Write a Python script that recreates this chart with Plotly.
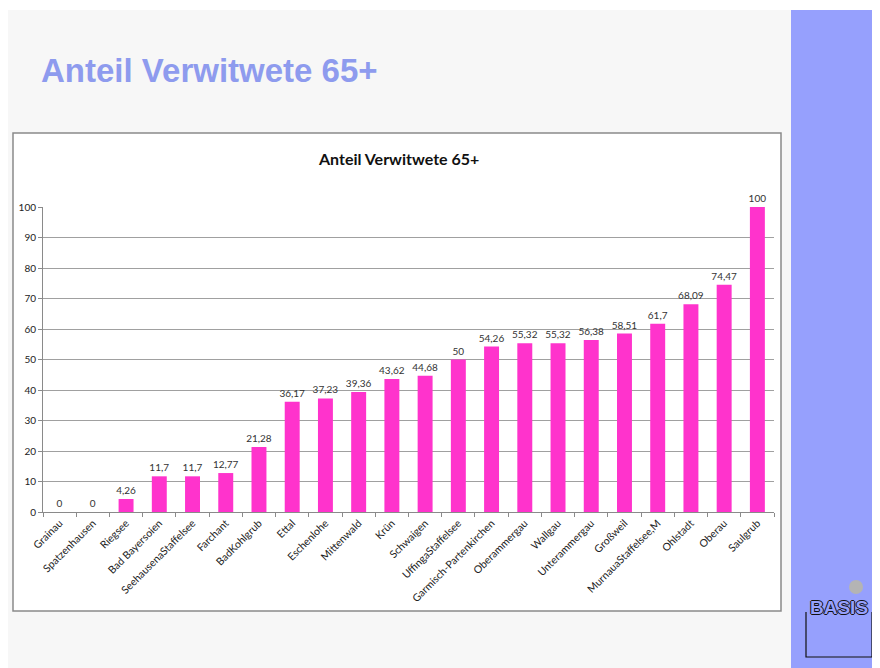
import plotly.graph_objects as go

categories = ["Grainau", "Spatzenhausen", "Riegsee", "Bad Bayersoien", "SeehausenaStaffelsee",
              "Farchant", "BadKohlgrub", "Ettal", "Eschenlohe", "Mittenwald", "Krün", "Schwaigen",
              "UffingaStaffelsee", "Garmisch-Partenkirchen", "Oberammergau", "Wallgau",
              "Unterammergau", "Großweil", "MurnauaStaffelsee,M", "Ohlstadt", "Oberau", "Saulgrub"]
values = [0, 0, 4.26, 11.7, 11.7, 12.77, 21.28, 36.17, 37.23, 39.36, 43.62, 44.68, 50,
          54.26, 55.32, 55.32, 56.38, 58.51, 61.7, 68.09, 74.47, 100]
y_ticks = [0, 10, 20, 30, 40, 50, 60, 70, 80, 90, 100]
page_title = "Anteil Verwitwete 65+"
chart_title = "Anteil Verwitwete 65+"

OFF = 8  # browser body margin
W, H = 880 - OFF, 668 - OFF
L, R, T, B = 43, 774, 207, 512  # plot area in reference px
FONT = "Lato, Carlito, sans-serif"


def px_x(p):
    return (p - L) / (R - L)


def px_y(p):
    return (B - p) / (B - T)


labels = [f"{v:g}".replace(".", ",") for v in values]

fig = go.Figure(go.Bar(
    x=categories, y=values, marker=dict(color="#ff33cc", line=dict(width=0)),
    width=0.45, text=labels, textposition="outside", cliponaxis=False, constraintext="none",
    textfont=dict(family=FONT, size=10, color="#333333"), hoverinfo="x+y"))

shapes = [
    dict(type="rect", xref="paper", yref="paper", x0=px_x(5), x1=px_x(791), y0=px_y(680), y1=px_y(10),
         fillcolor="#f7f7f7", line=dict(width=0), layer="below"),
    dict(type="rect", xref="paper", yref="paper", x0=px_x(791), x1=px_x(890), y0=px_y(680), y1=px_y(10),
         fillcolor="#96a0fd", line=dict(width=0), layer="below"),
    dict(type="rect", xref="paper", yref="paper", x0=px_x(13), x1=px_x(781), y0=px_y(611), y1=px_y(133),
         fillcolor="white", line=dict(color="#8a8a8a", width=1.5), layer="below"),
    dict(type="path", xref="paper", yref="paper",
         path=f"M {px_x(806)},{px_y(612)} L {px_x(806)},{px_y(657)} L {px_x(872)},{px_y(657)} L {px_x(872)},{px_y(612)}",
         line=dict(color="#111111", width=1.2)),
    dict(type="circle", xref="paper", yref="paper", x0=px_x(849), x1=px_x(863), y0=px_y(594), y1=px_y(580),
         fillcolor="#b4b4b4", line=dict(width=0)),
]

outline = "1px 0 0 #111, -1px 0 0 #111, 0 1px 0 #111, 0 -1px 0 #111"
annotations = [
    dict(text=f"<b>{page_title}</b>", x=px_x(39), y=px_y(70), xref="paper", yref="paper",
         xanchor="left", yanchor="middle", showarrow=False,
         font=dict(family="Liberation Sans, Arial, sans-serif", size=33, color="#8e9bee")),
    dict(text=f"<b>{chart_title}</b>", x=px_x(398), y=px_y(158), xref="paper", yref="paper",
         xanchor="center", yanchor="middle", showarrow=False,
         font=dict(family=FONT, size=16, color="#111111")),
    dict(text="<b>BASIS</b>", x=px_x(839), y=px_y(607), xref="paper", yref="paper",
         xanchor="center", yanchor="middle", showarrow=False,
         font=dict(family="Liberation Sans, sans-serif", size=19, color="#96a0fd", shadow=outline)),
]

fig.update_layout(
    width=W, height=H,
    margin=dict(l=L - OFF, r=W - (R - OFF), t=T - OFF, b=H - (B - OFF), pad=0),
    paper_bgcolor="white", plot_bgcolor="rgba(0,0,0,0)",
    showlegend=False,
    shapes=shapes, annotations=annotations,
    font=dict(family=FONT, color="#222222"),
)
fig.update_xaxes(type="category", showgrid=False, showline=True, linecolor="#8a8a8a", linewidth=1,
                 ticks="outside", tickson="boundaries", ticklen=4, tickcolor="#8a8a8a",
                 tickangle=-45, tickfont=dict(family=FONT, size=10.5, color="#222222"),
                 range=[-0.5, len(categories) - 0.5], fixedrange=True)
fig.update_yaxes(range=[0, 100], tickvals=y_ticks, showgrid=True, gridcolor="#a0a0a0", gridwidth=1,
                 showline=True, linecolor="#8a8a8a", linewidth=1, ticks="outside", ticklen=4,
                 tickcolor="#8a8a8a", zeroline=False,
                 tickfont=dict(family=FONT, size=10, color="#222222"), fixedrange=True)

fig.write_html("out.html")
